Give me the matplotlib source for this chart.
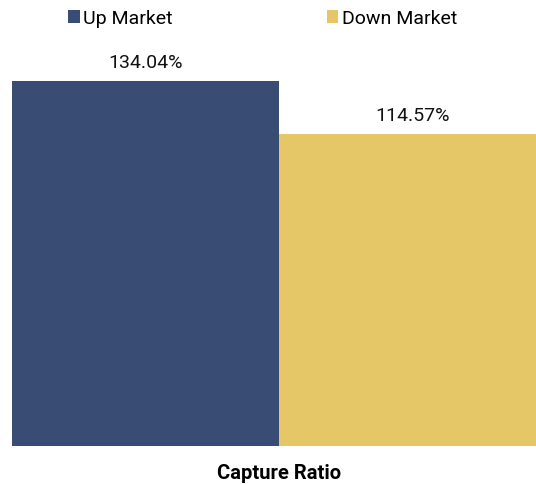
import matplotlib
matplotlib.use('Agg')
import matplotlib.pyplot as plt

plt.rcParams['font.family'] = ['Roboto', 'DejaVu Sans']

series = ['Up Market', 'Down Market']
values = [134.04, 114.57]
colors = ['#394D74', '#E6C768']

fig = plt.figure(figsize=(5.36, 4.85), dpi=100)
W, H = 536, 485
ax = fig.add_axes([12 / W, 1 - 447 / H, 534 / W, 407 / H])

bars = []
for i, (name, val, col) in enumerate(zip(series, values, colors)):
    b = ax.bar(i, val, width=1.0, color=col, label=name)
    bars.append(b)
    ax.annotate(f'{val:.2f}%', (i, val), xytext=(0, 7), textcoords='offset points',
                ha='center', va='bottom', fontsize=14, color='#111111',
                annotation_clip=False)

ax.set_xlim(-0.5, 1.5)
ax.set_ylim(0, 149.5)
ax.set_xticks([])
ax.set_yticks([])
for s in ax.spines.values():
    s.set_visible(False)
ax.set_xlabel('Capture Ratio', fontsize=14.5, fontweight='bold', labelpad=12)

fig.legend(handles=[b[0] for b in bars], labels=series, loc='upper center',
           bbox_to_anchor=(0.49, 1.015), ncol=2, frameon=False, fontsize=14,
           handlelength=0.6, handleheight=0.6, handletextpad=0.2,
           columnspacing=7.9)

fig.savefig('out.png', dpi=100)
